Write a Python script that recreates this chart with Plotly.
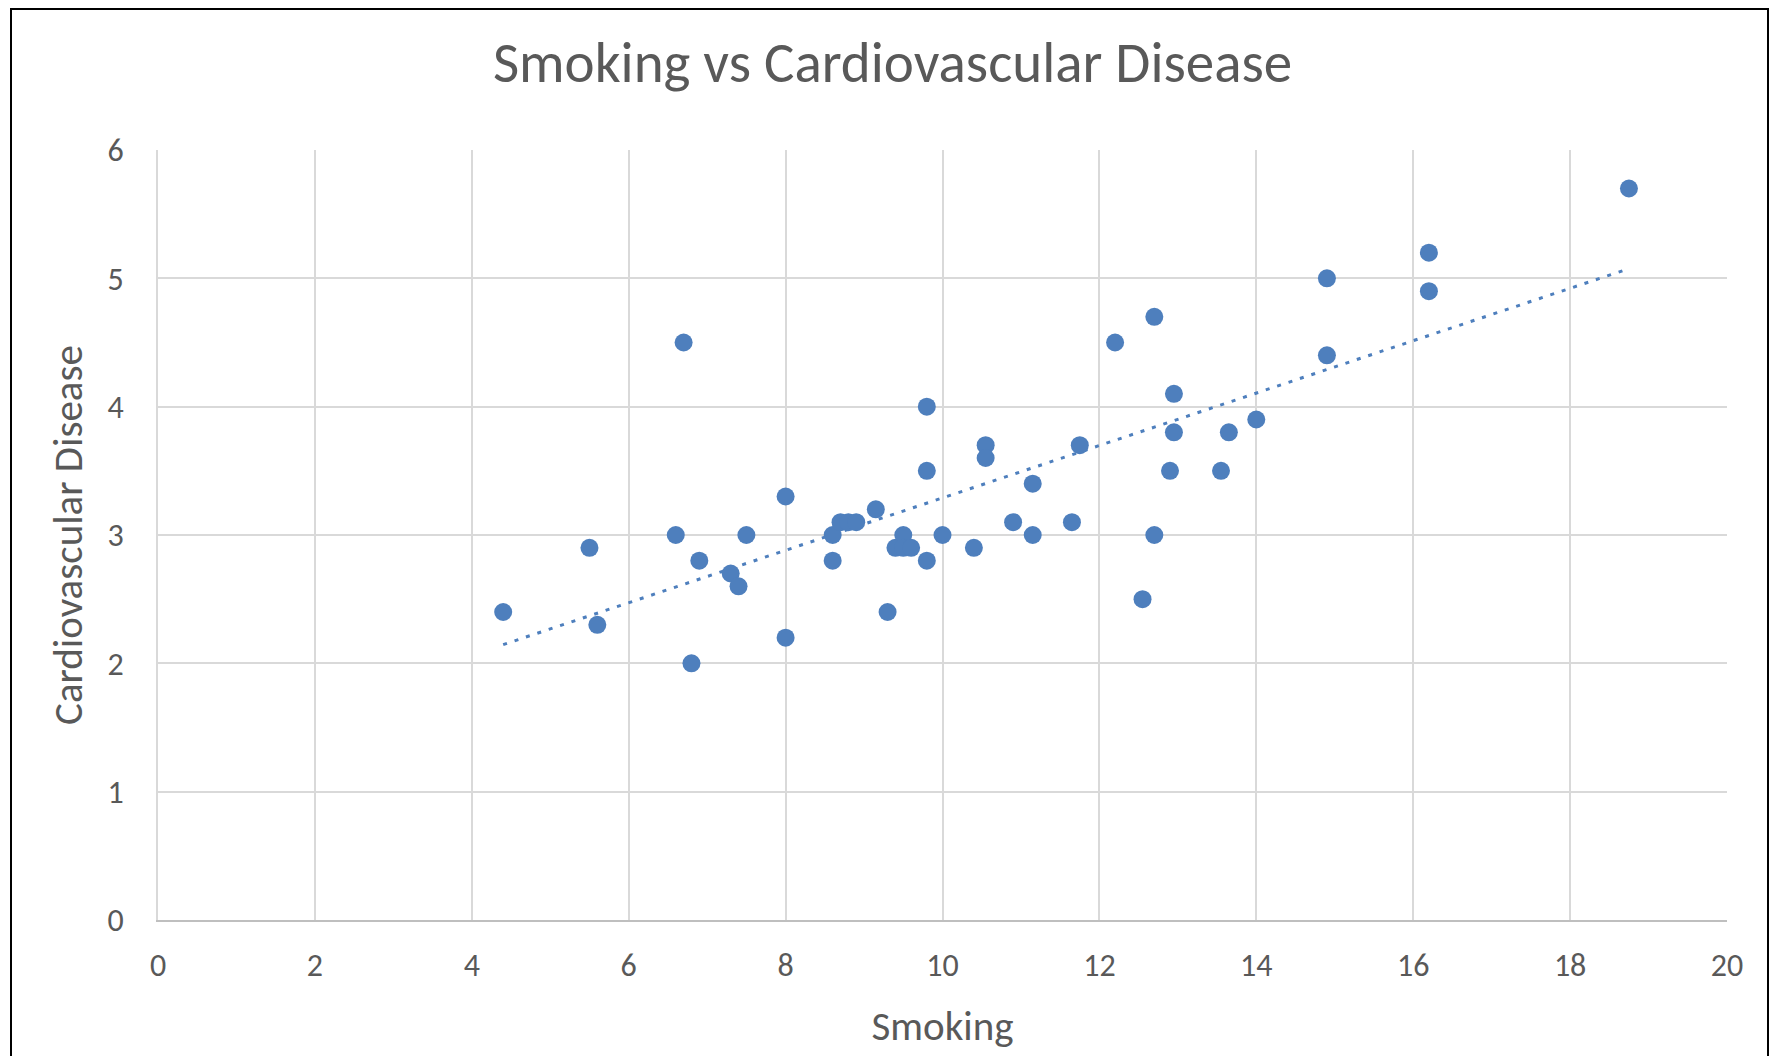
import numpy as np
import plotly.graph_objects as go

smoking = [4.4, 5.5, 5.6, 6.6, 6.7, 6.8, 6.9, 7.3, 7.4, 7.5,
           8.0, 8.0, 8.6, 8.6, 8.7, 8.8, 8.9, 9.15, 9.3, 9.4,
           9.5, 9.5, 9.6, 9.8, 9.8, 9.8, 10.0, 10.4, 10.55, 10.55,
           10.9, 11.15, 11.15, 11.65, 11.75, 12.2, 12.55, 12.7, 12.7, 12.9,
           12.95, 12.95, 13.55, 13.65, 14.0, 14.9, 14.9, 16.2, 16.2, 18.75]
cvd = [2.4, 2.9, 2.3, 3.0, 4.5, 2.0, 2.8, 2.7, 2.6, 3.0,
       3.3, 2.2, 3.0, 2.8, 3.1, 3.1, 3.1, 3.2, 2.4, 2.9,
       3.0, 2.9, 2.9, 4.0, 3.5, 2.8, 3.0, 2.9, 3.7, 3.6,
       3.1, 3.4, 3.0, 3.1, 3.7, 4.5, 2.5, 4.7, 3.0, 3.5,
       4.1, 3.8, 3.5, 3.8, 3.9, 5.0, 4.4, 5.2, 4.9, 5.7]

x_ticks = [0, 2, 4, 6, 8, 10, 12, 14, 16, 18, 20]
y_ticks = [0, 1, 2, 3, 4, 5, 6]

title_text = "Smoking vs Cardiovascular Disease"
x_title = "Smoking"
y_title = "Cardiovascular Disease"

blue = "#4e7fbd"
grey_text = "#595959"
FONT = "Carlito, Lato, sans-serif"

# linear trendline from the data
slope, intercept = np.polyfit(smoking, cvd, 1)
tx = np.array([min(smoking), max(smoking)])
ty = slope * tx + intercept

W, H = 1769, 1048
L, R, T, B = 150, 50, 142, 136
pw, ph = W - L - R, H - T - B

fig = go.Figure()
fig.add_trace(go.Scatter(
    x=tx, y=ty, mode="lines",
    line=dict(color=blue, width=3, dash="4px,8px"),
    showlegend=False, hoverinfo="skip"))
fig.add_trace(go.Scatter(
    x=smoking, y=cvd, mode="markers",
    marker=dict(color=blue, size=18, line=dict(width=0)),
    showlegend=False))

fig.update_layout(
    width=W, height=H,
    margin=dict(l=L, r=R, t=T, b=B, autoexpand=False),
    paper_bgcolor="white", plot_bgcolor="white",
    font=dict(family=FONT, color=grey_text),
    title=dict(text=title_text, x=0.5, xref="container", xanchor="center",
               y=1 - 54 / H, yref="container", yanchor="middle",
               font=dict(size=57, color=grey_text, family=FONT)),
    xaxis=dict(range=[0, 20], tickvals=x_ticks, ticktext=[str(v) for v in x_ticks],
               showgrid=True, gridcolor="#d9d9d9", gridwidth=2,
               zeroline=False, showline=True, linecolor="#bfbfbf", linewidth=2,
               ticks="outside", ticklen=16, tickcolor="rgba(0,0,0,0)",
               tickfont=dict(size=32, color=grey_text, family=FONT),
               title=dict(text=x_title, standoff=27,
                          font=dict(size=41, color=grey_text, family=FONT))),
    yaxis=dict(range=[0, 6], tickvals=y_ticks, ticktext=[str(v) for v in y_ticks],
               showgrid=True, gridcolor="#d9d9d9", gridwidth=2,
               zeroline=False, showline=True, linecolor="#d9d9d9", linewidth=2,
               ticks="outside", ticklen=26, tickcolor="rgba(0,0,0,0)",
               tickfont=dict(size=32, color=grey_text, family=FONT),
               title=dict(text=y_title, standoff=12,
                          font=dict(size=41, color=grey_text, family=FONT))),
    shapes=[dict(type="rect", xref="paper", yref="paper",
                 x0=(3 - L) / pw, x1=(1760 - L) / pw,
                 y0=-(B + 40) / ph, y1=(H - B - 1) / ph,
                 line=dict(color="black", width=2), fillcolor="rgba(0,0,0,0)",
                 layer="below")],
)

fig.write_html("out.html")
